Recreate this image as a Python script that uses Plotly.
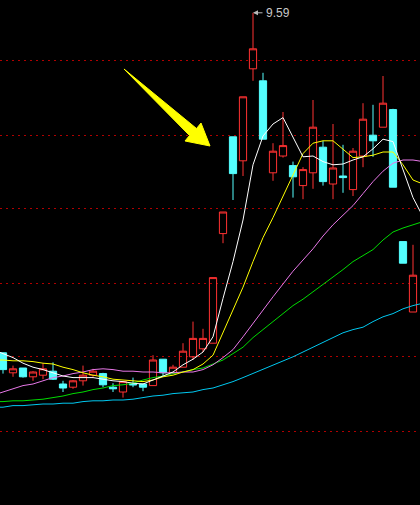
import plotly.graph_objects as go

# daily bars (index = trading day shown in the window)
days = list(range(42))
opens = [5.34, 5.09, 5.15, 5.04, 5.06, 5.11, 4.95, 4.91, 4.99, 5.06,
         5.08, 4.91, 4.85, 4.95, 4.95, 4.93, 5.26, 5.09, 5.16, 5.29,
         5.39, 5.46, 6.83, 8.04, 7.74, 8.89, 8.74, 7.59, 7.80, 7.68,
         7.43, 7.59, 7.91, 7.45, 7.55, 7.38, 7.80, 8.06, 8.16, 8.38,
         6.73, 5.85]
closes = [5.13, 5.14, 5.04, 5.10, 5.14, 5.01, 4.90, 4.99, 5.06, 5.11,
          4.94, 4.89, 4.98, 4.94, 4.91, 5.25, 5.09, 5.16, 5.36, 5.52,
          5.52, 6.28, 7.10, 7.58, 8.54, 9.14, 8.01, 7.86, 7.93, 7.54,
          7.63, 8.16, 7.48, 7.65, 7.53, 7.86, 8.26, 7.99, 8.46, 7.41,
          6.46, 6.31]
highs = [5.34, 5.18, 5.15, 5.11, 5.21, 5.22, 4.99, 5.00, 5.18, 5.14,
         5.09, 4.96, 4.98, 5.03, 4.95, 5.31, 5.26, 5.19, 5.46, 5.73,
         5.64, 6.28, 7.10, 8.04, 8.54, 9.59, 8.84, 7.96, 8.35, 7.73,
         7.66, 8.50, 7.99, 8.20, 7.94, 7.90, 8.46, 8.44, 8.80, 8.39,
         6.73, 6.69]
lows = [5.08, 5.04, 5.03, 4.99, 5.01, 5.00, 4.85, 4.89, 4.93, 5.04,
        4.91, 4.85, 4.78, 4.91, 4.86, 4.93, 5.05, 5.09, 5.16, 5.25,
        5.35, 5.46, 6.71, 7.25, 7.55, 8.74, 8.01, 7.49, 7.78, 7.28,
        7.26, 7.39, 7.43, 7.26, 7.34, 7.30, 7.66, 7.79, 8.16, 7.41,
        6.46, 5.85]

# moving averages, they run a bit past both edges of the window
ma_days = list(range(-1, 43))
ma5 = [5.38, 5.33, 5.28, 5.21, 5.16, 5.13, 5.09, 5.05, 5.03, 5.03, 5.03,
       5.01, 4.99, 4.98, 4.96, 4.95, 5.00, 5.05, 5.10, 5.19, 5.26, 5.35,
       5.54, 6.02, 6.48, 7.00, 7.69, 8.05, 8.20, 8.28, 8.03, 7.79, 7.80,
       7.73, 7.69, 7.70, 7.75, 7.79, 7.89, 8.01, 7.98, 7.63, 7.28, 7.04]
ma10 = [5.25, 5.25, 5.24, 5.24, 5.23, 5.21, 5.20, 5.16, 5.13, 5.09, 5.06,
        5.04, 5.01, 5.00, 4.99, 4.98, 5.00, 5.04, 5.06, 5.10, 5.13, 5.20,
        5.31, 5.59, 5.88, 6.16, 6.48, 6.78, 7.03, 7.29, 7.55, 7.83, 7.96,
        7.99, 7.99, 7.89, 7.78, 7.79, 7.81, 7.85, 7.85, 7.69, 7.50, 7.45]
ma20 = [4.81, 4.85, 4.89, 4.93, 4.95, 4.99, 5.03, 5.05, 5.08, 5.10, 5.13,
        5.14, 5.13, 5.11, 5.11, 5.10, 5.10, 5.09, 5.09, 5.10, 5.10, 5.13,
        5.19, 5.28, 5.38, 5.54, 5.71, 5.88, 6.04, 6.20, 6.36, 6.50, 6.64,
        6.80, 6.94, 7.06, 7.18, 7.33, 7.48, 7.61, 7.71, 7.75, 7.75, 7.73]
ma30 = [4.73, 4.73, 4.74, 4.74, 4.75, 4.76, 4.78, 4.80, 4.83, 4.85, 4.88,
        4.90, 4.93, 4.94, 4.96, 5.00, 5.03, 5.05, 5.08, 5.10, 5.13, 5.15,
        5.20, 5.25, 5.33, 5.41, 5.53, 5.63, 5.73, 5.83, 5.93, 6.01, 6.10,
        6.20, 6.29, 6.38, 6.48, 6.56, 6.63, 6.75, 6.85, 6.90, 6.94, 6.98]
ma60 = [4.66, 4.66, 4.68, 4.68, 4.69, 4.70, 4.70, 4.71, 4.71, 4.73, 4.74,
        4.74, 4.75, 4.75, 4.76, 4.78, 4.80, 4.81, 4.83, 4.84, 4.85, 4.88,
        4.90, 4.94, 4.98, 5.03, 5.08, 5.13, 5.19, 5.24, 5.29, 5.35, 5.41,
        5.48, 5.54, 5.59, 5.63, 5.66, 5.73, 5.79, 5.83, 5.89, 5.93, 5.96]

grid_levels = [8.99, 8.06, 7.14, 6.21, 5.29, 4.36]

W, H = 420, 505

fig = go.Figure()

# MA lines first so the candles sit on top
ma_lines = [(ma60, '#00c8f0'), (ma30, '#00dc00'), (ma20, '#e878e8'),
            (ma10, '#ffff00'), (ma5, '#ffffff')]
for vals, col in ma_lines:
    fig.add_trace(go.Scatter(x=ma_days, y=vals, mode='lines',
                             line=dict(color=col, width=1), hoverinfo='skip'))

fig.add_trace(go.Candlestick(
    x=days, open=opens, high=highs, low=lows, close=closes,
    increasing=dict(line=dict(color='#ff3232', width=1), fillcolor='rgba(0,0,0,0)'),
    decreasing=dict(line=dict(color='#54ffff', width=1), fillcolor='#54ffff'),
    whiskerwidth=0,
))

# highest price marker
hi = max(highs)
hi_day = days[highs.index(hi)]
fig.add_annotation(x=hi_day, y=hi, text='', showarrow=True, ax=11, ay=0,
                   arrowhead=2, arrowsize=1, arrowwidth=1, arrowcolor='#b8b8b8')
fig.add_annotation(x=hi_day, y=hi, text=f'{hi:.2f}', showarrow=False,
                   xanchor='left', yanchor='middle', xshift=11,
                   font=dict(family='Liberation Sans, Arial', size=12, color='#c8c8c8'))

# big yellow pointer arrow (pixel outline -> paper coords)
pts = [(124, 69), (196.5, 128.5), (201, 123), (210, 146), (185, 141), (189.5, 135.5)]
path = 'M ' + ' L '.join(f'{px / W:.4f},{1 - py / H:.4f}' for px, py in pts) + ' Z'
fig.add_shape(type='path', path=path, xref='paper', yref='paper',
              fillcolor='#ffff00', line=dict(color='#ffff00', width=1))

fig.update_layout(
    width=W, height=H,
    margin=dict(l=0, r=0, t=0, b=0),
    paper_bgcolor='black',
    plot_bgcolor='black',
    showlegend=False,
    boxgap=0.28,
    boxgroupgap=0,
    xaxis=dict(range=[-0.3, 41.7], visible=False, rangeslider=dict(visible=False),
               showgrid=False, zeroline=False),
    yaxis=dict(range=[3.4375, 9.75], tickvals=grid_levels, showticklabels=False,
               showgrid=True, gridcolor='#b00000', gridwidth=1, griddash='2px,4px',
               zeroline=False, showline=False, ticks=''),
)

# drop the browser's default page margin so the chart fills the window
fig.write_html("out.html", config={'displayModeBar': False},
               post_script="document.body.style.margin='0';"
               "document.body.style.background='black';")
